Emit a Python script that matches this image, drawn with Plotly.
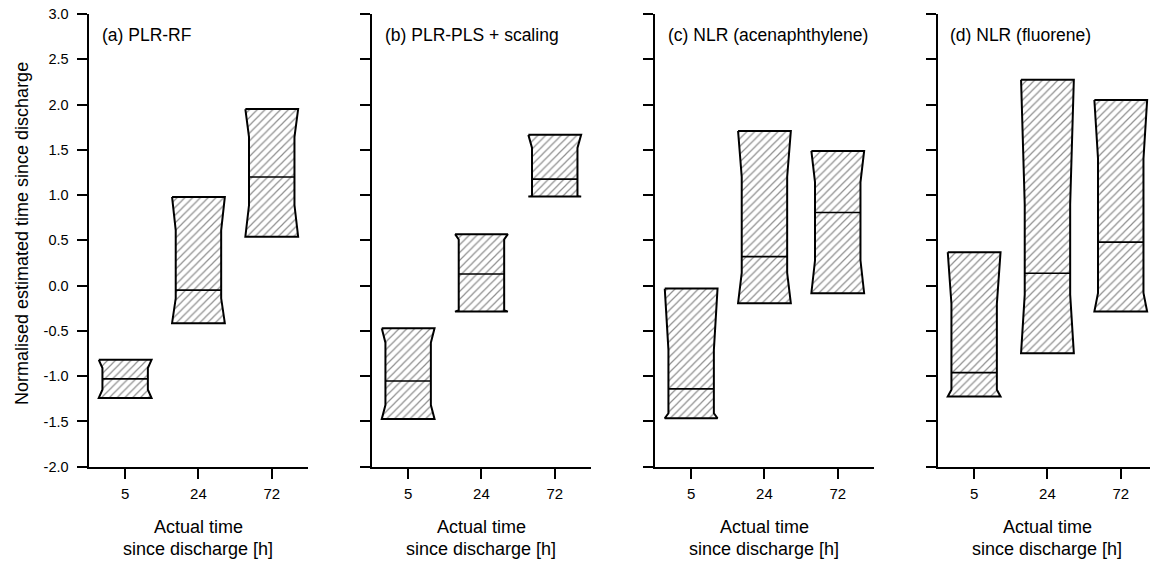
import plotly.graph_objects as go

# ---------------- data ----------------
categories = ["5", "24", "72"]
panel_titles = ["(a) PLR-RF", "(b) PLR-PLS + scaling", "(c) NLR (acenaphthylene)", "(d) NLR (fluorene)"]

# upper quartile, upper notch end, median, lower notch end, lower quartile (per box)
a_q3 = [-0.82, 0.98, 1.95]
a_nh = [-0.91, 0.61, 1.64]
a_med = [-1.03, -0.05, 1.20]
a_nl = [-1.15, -0.14, 0.89]
a_q1 = [-1.24, -0.415, 0.54]

b_q3 = [-0.47, 0.568, 1.665]
b_nh = [-0.63, 0.51, 1.52]
b_med = [-1.053, 0.129, 1.176]
b_nl = [-1.32, -0.27, 0.99]
b_q1 = [-1.473, -0.287, 0.983]

c_q3 = [-0.033, 1.709, 1.488]
c_nh = [-0.71, 1.20, 1.14]
c_med = [-1.14, 0.32, 0.807]
c_nl = [-1.41, 0.14, 0.28]
c_q1 = [-1.465, -0.195, -0.084]

d_q3 = [0.369, 2.273, 2.05]
d_nh = [-0.20, 0.90, 1.40]
d_med = [-0.961, 0.137, 0.48]
d_nl = [-1.15, -0.10, -0.08]
d_q1 = [-1.226, -0.747, -0.287]

y_ticks = [-2.0, -1.5, -1.0, -0.5, 0.0, 0.5, 1.0, 1.5, 2.0, 2.5, 3.0]

panels = [
    (a_q3, a_nh, a_med, a_nl, a_q1),
    (b_q3, b_nh, b_med, b_nl, b_q1),
    (c_q3, c_nh, c_med, c_nl, c_q1),
    (d_q3, d_nh, d_med, d_nl, d_q1),
]

# ---------------- layout constants ----------------
W_FIG, H_FIG = 1150, 565


def fx(px):
    return px / W_FIG


def fy(py):
    return 1 - py / H_FIG


HALF_W = 0.36      # box half width (category units)
HALF_N = 0.31      # notch (narrow) half width
PX_PER_UNIT = 73.3
axis_left_px = [88.5, 371.5, 654.5, 937.5]
FONT = "Liberation Sans, Arial, sans-serif"
TITLE_SIZE = 17.5
LABEL_SIZE = 18

fig = go.Figure()
layout = dict(
    width=W_FIG, height=H_FIG,
    margin=dict(l=0, r=0, t=0, b=0, pad=0, autoexpand=False),
    paper_bgcolor="white", plot_bgcolor="white",
    showlegend=False,
    font=dict(family=FONT, color="black", size=14),
)

y_dom = [fy(466.7), fy(14)]
annotations = []

for i, (q3, nh, med, nl, q1) in enumerate(panels):
    xa = "x" if i == 0 else f"x{i+1}"
    ya = "y" if i == 0 else f"y{i+1}"
    left = axis_left_px[i]
    right = min(left + 3 * PX_PER_UNIT, W_FIG)
    xmax = -0.5 + (right - left) / PX_PER_UNIT
    for k in range(len(categories)):
        xc = k
        xs = [xc - HALF_W, xc + HALF_W, xc + HALF_N, xc + HALF_N, xc + HALF_W,
              xc - HALF_W, xc - HALF_N, xc - HALF_N, xc - HALF_W]
        ys = [q3[k], q3[k], nh[k], nl[k], q1[k], q1[k], nl[k], nh[k], q3[k]]
        fig.add_trace(go.Scatter(
            x=xs, y=ys, xaxis=xa, yaxis=ya, mode="lines",
            fill="toself", fillcolor="white",
            fillpattern=dict(shape="/", size=5.5, solidity=0.22, fgcolor="#222222", bgcolor="white"),
            line=dict(color="black", width=2), hoverinfo="skip", cliponaxis=False,
        ))
        fig.add_trace(go.Scatter(
            x=[xc - HALF_N, xc + HALF_N], y=[med[k], med[k]], xaxis=xa, yaxis=ya,
            mode="lines", line=dict(color="black", width=1.6), hoverinfo="skip",
            cliponaxis=False,
        ))
    xkey = "xaxis" if i == 0 else f"xaxis{i+1}"
    ykey = "yaxis" if i == 0 else f"yaxis{i+1}"
    layout[xkey] = dict(
        domain=[fx(left), min(fx(right), 1.0)], anchor=ya, automargin=False,
        range=[-0.5, xmax], tickvals=list(range(len(categories))), ticktext=categories,
        showline=True, linewidth=2, linecolor="black", ticks="outside", ticklen=10,
        tickwidth=1.5, tickcolor="black", showgrid=False, zeroline=False,
        tickfont=dict(family=FONT, size=15), ticklabelstandoff=2, fixedrange=True,
        ticklabeloverflow="allow",
    )
    layout[ykey] = dict(
        domain=y_dom, anchor=xa, range=[-2.0, 3.0], tickvals=y_ticks, automargin=False,
        ticktext=[f"{v:.1f}" for v in y_ticks], showticklabels=(i == 0),
        showline=True, linewidth=2, linecolor="black", ticks="outside", ticklen=10,
        tickwidth=1.5, tickcolor="black", showgrid=False, zeroline=False,
        tickfont=dict(family=FONT, size=14.5), ticklabelstandoff=5, fixedrange=True,
        ticklabeloverflow="allow",
    )
    annotations.append(dict(
        text=panel_titles[i], xref="paper", yref="paper",
        x=fx(left + 11), y=fy(35), xanchor="left", yanchor="middle",
        showarrow=False, font=dict(family=FONT, size=TITLE_SIZE),
    ))
    annotations.append(dict(
        text="Actual time", xref=xa, yref="paper", x=1, y=fy(526.5),
        xanchor="center", yanchor="middle", showarrow=False, font=dict(family=FONT, size=LABEL_SIZE),
    ))
    annotations.append(dict(
        text="since discharge [h]", xref=xa, yref="paper", x=1, y=fy(548.5),
        xanchor="center", yanchor="middle", showarrow=False, font=dict(family=FONT, size=LABEL_SIZE),
    ))

annotations.append(dict(
    text="Normalised estimated time since discharge", xref="paper", yref="paper",
    x=fx(22), y=fy(234), xanchor="center", yanchor="middle",
    textangle=-90, showarrow=False, font=dict(family=FONT, size=LABEL_SIZE),
))
layout["annotations"] = annotations
fig.update_layout(**layout)
fig.write_html(
    "out.html",
    config={"displayModeBar": False},
    post_script="document.body.style.margin='0px';document.body.style.overflow='hidden';",
)
